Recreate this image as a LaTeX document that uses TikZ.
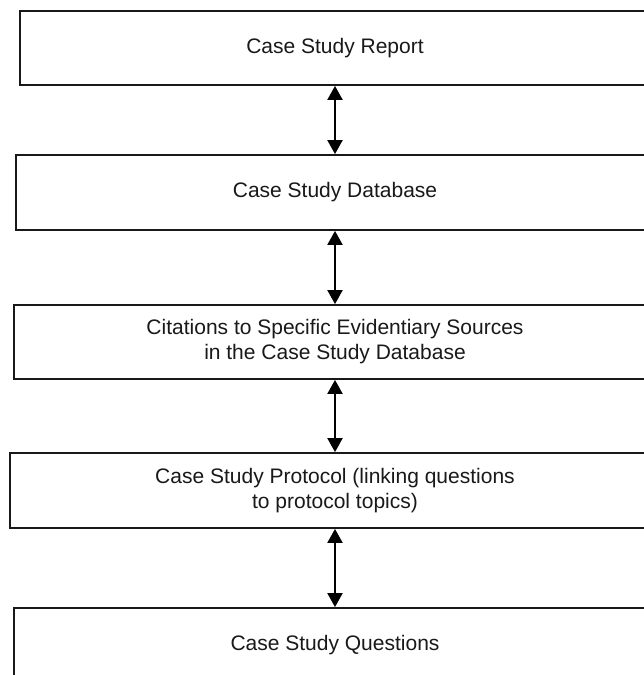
\documentclass[tikz,border=0pt]{standalone}
\usepackage{fontspec}
\setmainfont{Liberation Sans}
\usetikzlibrary{arrows.meta}

\begin{document}
\begin{tikzpicture}[x=1pt,y=-1pt,
  stagebox/.style={draw=black!90, line width=1.8pt, fill=white, inner sep=0pt,
    align=center, font=\fontsize{21}{25}\selectfont, text=black!90},
  biarrow/.style={line width=2pt, draw=black,
    {Triangle[width=15pt,length=14pt]}-{Triangle[width=15pt,length=14pt]}}]

  \useasboundingbox (0,0) rectangle (644,675);

  % stacked stages, each box running off the right edge
  \node[stagebox, minimum width=630pt, minimum height=74pt] (report) at (335,48) {Case Study Report};
  \node[stagebox, minimum width=638pt, minimum height=75pt] (database) at (335,192.5) {Case Study Database};
  \node[stagebox, minimum width=642pt, minimum height=74pt] (citations) at (335,342)
    {Citations to Specific Evidentiary Sources\\in the Case Study Database};
  \node[stagebox, minimum width=650pt, minimum height=75pt] (protocol) at (335,490.5)
    {Case Study Protocol (linking questions\\to protocol topics)};
  \node[stagebox, minimum width=642pt, minimum height=74pt] (questions) at (335,645) {Case Study Questions};

  % two-way links between neighbouring stages
  \draw[biarrow] (report.south) -- (database.north);
  \draw[biarrow] (database.south) -- (citations.north);
  \draw[biarrow] (citations.south) -- (protocol.north);
  \draw[biarrow] (protocol.south) -- (questions.north);
\end{tikzpicture}
\end{document}
